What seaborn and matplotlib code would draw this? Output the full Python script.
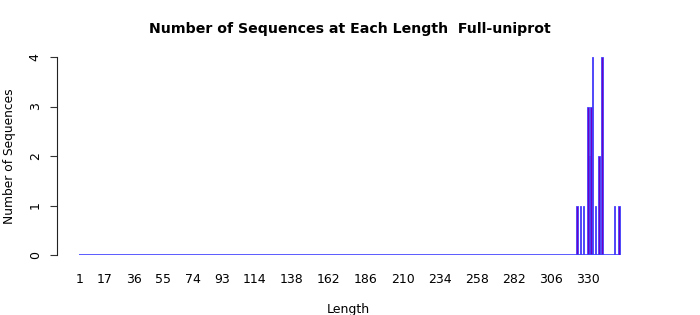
import numpy as np
import pandas as pd
import matplotlib
matplotlib.use("Agg")
import matplotlib.pyplot as plt
import seaborn as sns

# Data
max_length = 350
nonzero_lengths = [323, 325, 327, 330, 331, 332, 333, 335, 337, 339, 347, 350]
nonzero_counts = [1, 1, 1, 3, 2, 3, 4, 1, 2, 4, 1, 1]
tick_values = [1, 17, 36, 55, 74, 93, 114, 138, 162, 186, 210, 234, 258, 282, 306, 330]
y_ticks = [0, 1, 2, 3, 4]

all_lengths = np.arange(1, max_length + 1)
counts = pd.Series(0, index=all_lengths)
counts.loc[nonzero_lengths] = nonzero_counts
df = pd.DataFrame({"Length": all_lengths, "Count": counts.values})

sns.set_style("white")
plt.rcParams["font.family"] = ["DejaVu Sans"]
for k in ["text.color", "axes.labelcolor", "xtick.color", "ytick.color"]:
    plt.rcParams[k] = "black"

W, H = 700, 315
fig = plt.figure(figsize=(W / 100, H / 100), dpi=100)
left, right, top, bottom = 57, 640, 57, 255
ax = fig.add_axes([left / W, 1 - bottom / H, (right - left) / W, (bottom - top) / H])

fill_col = "#6c00c4"
edge_col = "#4040ff"
sns.barplot(data=df, x="Length", y="Count", native_scale=True, errorbar=None,
            color=fill_col, edgecolor=edge_col, linewidth=0.6,
            saturation=1, ax=ax, width=0.95)
# zero-height bars render as a blue baseline in the reference
ax.hlines(0, df["Length"].min() - 0.4, df["Length"].max() + 0.4,
          color=edge_col, linewidth=1.2, zorder=3)

px_per_unit = 508 / 329
x0 = 1 + (left - 80) / px_per_unit
x1 = 1 + (right - 80) / px_per_unit
ax.set_xlim(x0, x1)
ax.set_ylim(0, 4)

ax.set_xticks(tick_values)
ax.set_xticklabels([str(v) for v in tick_values], fontsize=9)
ax.tick_params(axis="x", length=0, pad=13)
ax.set_yticks(y_ticks)
ax.set_yticklabels([str(v) for v in y_ticks], fontsize=9, rotation=90, va="center")
ax.tick_params(axis="y", length=5, width=0.8, pad=6, left=True, color="#333333")

for s in ["top", "right", "bottom"]:
    ax.spines[s].set_visible(False)
ax.spines["left"].set_bounds(0, 4)
ax.spines["left"].set_color("#222222")
ax.spines["left"].set_linewidth(0.8)

ax.set_xlabel("Length", fontsize=9, labelpad=12)
ax.set_ylabel("Number of Sequences", fontsize=8.8, labelpad=9)
fig.suptitle("Number of Sequences at Each Length  Full-uniprot",
             fontsize=10.2, fontweight="bold", x=350 / W, y=1 - 29 / H, va="center")

fig.savefig("out.png", dpi=100)
